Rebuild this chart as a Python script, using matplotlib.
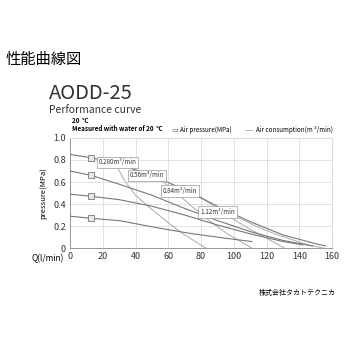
import numpy as np
import matplotlib
matplotlib.use('Agg')
import matplotlib.pyplot as plt

plt.rcParams['font.family'] = ['Noto Sans CJK JP', 'DejaVu Sans']

# pressure curves (MPa) vs flow Q (l/min)
p08_q = [0, 13, 30, 50, 70, 90, 110, 130, 150, 156]
p08_p = [0.85, 0.82, 0.76, 0.66, 0.53, 0.38, 0.24, 0.12, 0.04, 0.02]
p07_q = [0, 13, 30, 50, 70, 90, 110, 130, 148]
p07_p = [0.70, 0.66, 0.58, 0.48, 0.36, 0.25, 0.15, 0.07, 0.02]
p05_q = [0, 13, 30, 50, 70, 90, 110, 130, 142]
p05_p = [0.49, 0.47, 0.44, 0.38, 0.30, 0.21, 0.13, 0.06, 0.03]
p03_q = [0, 13, 30, 55, 75, 95, 111]
p03_p = [0.29, 0.27, 0.25, 0.18, 0.13, 0.09, 0.06]

# air consumption curves
a028_q = [28, 33, 40, 50, 60, 70, 83]
a028_p = [0.76, 0.62, 0.48, 0.35, 0.23, 0.12, 0.0]
a056_q = [50, 57, 65, 75, 85, 95, 111]
a056_p = [0.66, 0.60, 0.50, 0.37, 0.25, 0.14, 0.0]
a084_q = [72, 80, 90, 100, 110, 120, 131]
a084_p = [0.52, 0.46, 0.36, 0.26, 0.17, 0.09, 0.0]
a112_q = [95, 105, 115, 125, 135, 145, 155]
a112_p = [0.33, 0.26, 0.19, 0.13, 0.08, 0.03, 0.0]

marker_q = 13
labels = ['0.280m³/min', '0.56m³/min', '0.84m³/min', '1.12m³/min']
label_q = [29, 47, 67, 90]
label_p = [0.777, 0.659, 0.518, 0.327]

fig = plt.figure(figsize=(3.5, 3.5), dpi=100)
ax = fig.add_axes([0.2, 0.291, 0.749, 0.315])

for q, p in [(p08_q, p08_p), (p07_q, p07_p), (p05_q, p05_p), (p03_q, p03_p)]:
    ax.plot(q, p, color='#777777', lw=0.8, zorder=3)
    ax.plot(marker_q, np.interp(marker_q, q, p), marker='s', ms=4,
            mfc='#e8e8e8', mec='#777777', mew=0.6, zorder=4)

for q, p in [(a028_q, a028_p), (a056_q, a056_p), (a084_q, a084_p), (a112_q, a112_p)]:
    ax.plot(q, p, color='#aaaaaa', lw=0.7, zorder=2)

for txt, q, p in zip(labels, label_q, label_p):
    ax.text(q, p, txt, fontsize=4.5, ha='center', va='center', color='#333333',
            bbox=dict(boxstyle='square,pad=0.3', fc='white', ec='#999999', lw=0.5),
            zorder=5)

ax.set_xlim(0, 160)
ax.set_ylim(0, 1.0)
ax.set_xticks(range(0, 161, 20))
ax.set_yticks(np.arange(0, 1.01, 0.2))
ax.set_yticklabels(['0', '0.2', '0.4', '0.6', '0.8', '1.0'])
ax.tick_params(labelsize=6.5, length=0, colors='#333333', pad=3)
ax.grid(color='#dddddd', lw=0.6)
for s in ['top', 'right']:
    ax.spines[s].set_color('#dddddd')
for s in ['left', 'bottom']:
    ax.spines[s].set_color('#888888')
    ax.spines[s].set_linewidth(0.6)
ax.set_ylabel('pressure(MPa)', fontsize=5.5, labelpad=4)
ax.text(-4, -0.09, 'Q(l/min)', fontsize=6, ha='right', va='center',
        transform=ax.transData, clip_on=False)

# headings
fig.text(0.015, 0.829, '性能曲線図', fontsize=11, va='center')
fig.text(0.14, 0.734, 'AODD-25', fontsize=14.5, va='center', color='#333333')
fig.text(0.14, 0.686, 'Performance curve', fontsize=7.5, va='center', color='#333333')
fig.text(0.205, 0.657, '20  ℃', fontsize=4.5, va='center', weight='bold')
fig.text(0.205, 0.632, 'Measured with water of 20  ℃', fontsize=4.5, va='center',
         weight='bold')

# legend
fig.text(0.49, 0.629, '▭', fontsize=5, va='center', color='#666666')
fig.text(0.515, 0.629, 'Air pressure(MPa)', fontsize=4.5, va='center')
fig.lines.append(plt.Line2D([0.70, 0.72], [0.629, 0.629], transform=fig.transFigure,
                            color='#aaaaaa', lw=0.6))
fig.text(0.73, 0.629, 'Air consumption(m ³/min)', fontsize=4.5, va='center')

fig.text(0.96, 0.163, '株式会社タカトテクニカ', fontsize=5, ha='right', va='center')

fig.savefig('out.png', dpi=100)
